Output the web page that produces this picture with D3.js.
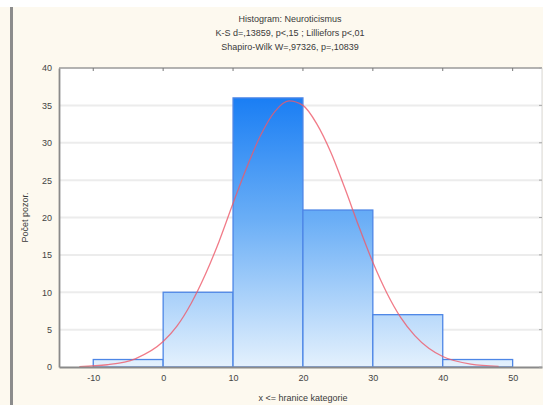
<!DOCTYPE html>
<html>
<head>
<meta charset="utf-8">
<script src="https://cdn.jsdelivr.net/npm/d3@7"></script>
<style>
  body { margin: 0; background: #fff; }
  svg { display: block; font-family: "Liberation Sans", Arial, sans-serif; }
</style>
</head>
<body>
<div id="chart"></div>
<script>
// bin edges (upper bound of each category) and counts
var binStarts = [-10, 0, 10, 20, 30, 40];
var binEnds = [0, 10, 20, 30, 40, 50];
var counts = [1, 10, 36, 21, 7, 1];

// fitted normal curve
var curveX = [-12, -8, -4, 0, 2, 4, 6, 8, 10, 12, 14, 16, 18, 20, 22, 24, 26, 28, 30, 32, 34, 36, 38, 40, 44, 48];
var curveY = [0.06, 0.3, 1.1, 3.4, 5.5, 8.5, 12.3, 16.8, 21.9, 26.8, 31.1, 34.2, 35.6, 35.0, 32.5, 28.7, 23.9, 18.8, 14.0, 9.9, 6.6, 4.2, 2.5, 1.4, 0.38, 0.08];

var xTicks = [-10, 0, 10, 20, 30, 40, 50];
var yTicks = [0, 5, 10, 15, 20, 25, 30, 35, 40];

var titleLines = ["Histogram: Neuroticismus",
                  "K-S d=,13859, p<,15 ; Lilliefors p<,01",
                  "Shapiro-Wilk W=,97326, p=,10839"];

const W = 543, H = 405;
const margin = {top: 68, right: 1, bottom: 38, left: 59};
const width = W - margin.left - margin.right;
const height = H - margin.top - margin.bottom;

const svg = d3.select('#chart').append('svg')
    .attr('width', W)
    .attr('height', H);

// background pieces
svg.append('rect').attr('width', W).attr('height', H).attr('fill', '#fdf9ef');
svg.append('rect').attr('width', W).attr('height', 7).attr('fill', '#ffffff');
svg.append('rect').attr('x', 10).attr('y', 7).attr('width', 3).attr('height', H - 7).attr('fill', '#8c8c8c');

const xScale = d3.scaleLinear().domain([-14.9, 54.2]).range([0, width]);
const yScale = d3.scaleLinear().domain([0, 40]).range([height, 0]);

const g = svg.append('g').attr('transform', `translate(${margin.left}, ${margin.top})`);

g.append('rect').attr('width', width).attr('height', height).attr('fill', '#ffffff');

// gridlines
g.append('g').selectAll('line')
    .data(yTicks.slice(1, -1))
    .enter().append('line')
    .attr('x1', 0).attr('x2', width)
    .attr('y1', d => yScale(d)).attr('y2', d => yScale(d))
    .attr('stroke', '#ececec').attr('stroke-width', 2);

// vertical gradient over the whole plot height
const defs = svg.append('defs');
const grad = defs.append('linearGradient')
    .attr('id', 'barGrad')
    .attr('gradientUnits', 'userSpaceOnUse')
    .attr('x1', 0).attr('x2', 0)
    .attr('y1', yScale(36)).attr('y2', yScale(0));
grad.append('stop').attr('offset', '0%').attr('stop-color', '#1a7ef4');
grad.append('stop').attr('offset', '45%').attr('stop-color', '#6aaef6');
grad.append('stop').attr('offset', '100%').attr('stop-color', '#e4f1fd');

g.append('g').selectAll('rect')
    .data(counts)
    .enter().append('rect')
    .attr('x', (d, i) => xScale(binStarts[i]))
    .attr('y', d => yScale(d))
    .attr('width', (d, i) => xScale(binEnds[i]) - xScale(binStarts[i]))
    .attr('height', d => yScale(0) - yScale(d))
    .attr('fill', 'url(#barGrad)')
    .attr('stroke', '#4d86e6')
    .attr('stroke-width', 1.3);

// normal curve
const line = d3.line()
    .x((d, i) => xScale(curveX[i]))
    .y(d => yScale(d))
    .curve(d3.curveMonotoneX);

g.append('path')
    .datum(curveY)
    .attr('d', line)
    .attr('fill', 'none')
    .attr('stroke', '#ee5a6a')
    .attr('stroke-width', 1.3)
    .attr('stroke-opacity', 0.8);

// frame
g.append('line').attr('x1', 0).attr('x2', width).attr('y1', 0).attr('y2', 0)
    .attr('stroke', '#9a9a9a').attr('stroke-width', 1.5);
g.append('line').attr('x1', width).attr('x2', width).attr('y1', 0).attr('y2', height)
    .attr('stroke', '#d8d8d8').attr('stroke-width', 1);

// axes
const xAxis = g.append('g')
    .attr('transform', `translate(0, ${height})`)
    .call(d3.axisBottom(xScale).tickValues(xTicks).tickSize(0).tickPadding(8)
        .tickFormat(d => String(d)));
xAxis.select('.domain').attr('stroke', '#8a8a8a').attr('stroke-width', 2.2);

const yAxis = g.append('g')
    .call(d3.axisLeft(yScale).tickValues(yTicks).tickSize(0).tickPadding(7)
        .tickFormat(d => String(d)));
yAxis.select('.domain').attr('stroke', '#8a8a8a').attr('stroke-width', 1.8);

g.selectAll('.tick text').attr('font-size', 9).attr('fill', '#444');

// small inward ticks on top and right
g.append('g').selectAll('line')
    .data(xTicks)
    .enter().append('line')
    .attr('x1', d => xScale(d)).attr('x2', d => xScale(d))
    .attr('y1', 0).attr('y2', 3)
    .attr('stroke', '#777');
g.append('g').selectAll('line')
    .data(yTicks)
    .enter().append('line')
    .attr('x1', width - 3).attr('x2', width)
    .attr('y1', d => yScale(d)).attr('y2', d => yScale(d))
    .attr('stroke', '#aaa');

// titles
svg.append('g').selectAll('text')
    .data(titleLines)
    .enter().append('text')
    .attr('x', 290)
    .attr('y', (d, i) => 22 + i * 14)
    .attr('text-anchor', 'middle')
    .attr('font-size', 9)
    .attr('fill', '#3a3a3a')
    .text(d => d);

svg.append('text')
    .attr('x', margin.left + xScale(20))
    .attr('y', 401)
    .attr('text-anchor', 'middle')
    .attr('font-size', 9)
    .attr('fill', '#3a3a3a')
    .text('x <= hranice kategorie');

svg.append('text')
    .attr('transform', `translate(28, ${margin.top + yScale(20)}) rotate(-90)`)
    .attr('text-anchor', 'middle')
    .attr('font-size', 9)
    .attr('fill', '#3a3a3a')
    .text('Počet pozor.');
</script>
</body>
</html>
